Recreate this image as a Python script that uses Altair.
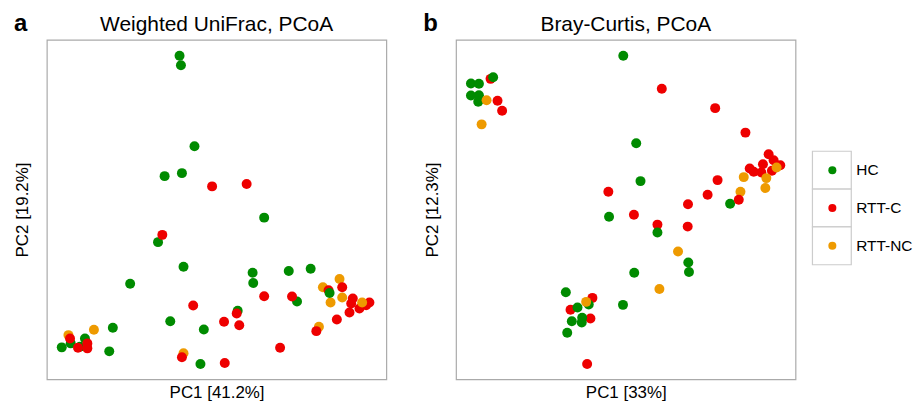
import altair as alt
import pandas as pd

FONT = "Liberation Sans"
groups = ["HC", "RTT-C", "RTT-NC"]
colors = ["#008b00", "#ee0000", "#ee9a00"]

# ---- Panel a: Weighted UniFrac PCoA (positions, in picture units) ----
a_x = [179.3, 180.7, 194.3, 164.3, 181.7, 157.7, 183.3, 129.7, 237.7, 84.3, 112.3, 170.0, 203.7,
       61.0, 70.0, 79.3, 108.7, 200.3, 264.3, 252.7, 253.3, 289.0, 311.0, 297.3,
       67.7, 93.3, 183.3, 340.0, 323.3, 342.7, 331.0, 319.3,
       212.0, 162.0, 193.0, 236.7, 69.3, 224.0, 239.3, 77.3, 86.7, 86.7, 181.7, 224.7, 246.7,
       329.0, 342.7, 264.3, 292.3, 353.3, 351.7, 360.0, 350.0, 370.0, 366.7, 337.3, 316.7, 280.3,
       362.7, 330.0]
a_y = [56.0, 65.7, 147.0, 177.0, 174.0, 243.3, 268.0, 285.0, 312.3, 340.0, 329.3, 322.7, 331.0,
       349.0, 345.0, 348.3, 353.0, 365.7, 218.7, 274.0, 284.3, 272.3, 270.0, 303.0,
       336.7, 331.3, 355.0, 280.3, 288.7, 299.0, 304.0, 328.3,
       187.3, 236.0, 307.0, 315.0, 340.0, 323.3, 326.7, 349.3, 345.0, 350.0, 359.0, 364.7, 185.0,
       291.7, 288.7, 297.7, 298.0, 300.0, 305.0, 310.0, 314.0, 304.0, 306.7, 321.0, 332.7, 349.3,
       304.0, 294.3]
a_g = (["HC"] * 24 + ["RTT-NC"] * 8 + ["RTT-C"] * 26 + ["RTT-NC"] + ["HC"])

# ---- Panel b: Bray-Curtis PCoA ----
b_x = [731.3, 741.7,
       490.7, 497.7, 502.3, 609.0, 634.7, 593.0, 571.0, 591.0, 587.7, 662.7, 716.3, 746.7, 770.0,
       775.0, 764.3, 781.7, 751.0, 755.0, 762.7, 773.3, 718.7, 708.7, 740.0, 689.0, 658.3, 688.7,
       624.0, 471.0, 479.0, 493.3, 471.0, 479.0, 478.3, 637.0, 641.3, 609.7, 635.0, 566.3, 589.3,
       578.0, 623.7, 572.3, 582.7, 582.3, 567.7, 658.3, 689.3, 690.0,
       486.7, 481.7, 586.7, 778.0, 745.0, 767.7, 766.7, 679.0, 660.3]
b_y = [204.7, 192.7,
       79.3, 101.3, 111.3, 192.7, 215.7, 299.3, 311.3, 320.0, 365.7, 89.3, 108.7, 133.3, 155.0,
       161.0, 165.0, 166.0, 169.3, 172.7, 173.3, 171.7, 181.0, 195.7, 200.7, 205.3, 225.7, 227.7,
       56.0, 84.0, 84.3, 77.7, 96.0, 95.7, 102.3, 144.0, 182.0, 217.7, 274.0, 293.7, 306.0,
       309.0, 306.3, 322.7, 319.3, 324.0, 334.3, 233.7, 263.7, 273.3,
       100.7, 125.0, 303.3, 168.3, 178.0, 179.0, 189.0, 252.7, 290.3]
b_g = (["HC"] + ["RTT-NC"] + ["RTT-C"] * 26 + ["HC"] * 22 + ["RTT-NC"] * 9)

W = 341
H = 341

color_scale = alt.Scale(domain=groups, range=colors)


def make_axis(title, pad, size):
    return alt.Axis(title=title, labels=False, ticks=False, domain=False, grid=False,
                    titleFont=FONT, titleFontSize=size, titleFontWeight="normal",
                    titleColor="black", titlePadding=pad)


def panel(xs, ys, gs, xdom, ydom, title, letter, xt, yt):
    df = pd.DataFrame({"x": xs, "y": ys, "group": gs, "ord": list(range(len(xs)))})
    pts = alt.Chart(df).mark_circle(size=100, opacity=1).encode(
        x=alt.X("x:Q", scale=alt.Scale(domain=xdom, nice=False, zero=False),
                axis=make_axis(xt, 5, 17)),
        y=alt.Y("y:Q", scale=alt.Scale(domain=ydom, nice=False, zero=False, reverse=True),
                axis=make_axis(yt, 15, 17)),
        color=alt.Color("group:N", scale=color_scale, legend=None),
        order=alt.Order("ord:Q"),
    )
    lab = alt.Chart(pd.DataFrame({"t": [letter]})).mark_text(
        align="left", baseline="alphabetic", font=FONT, fontSize=24, fontWeight="bold", color="black"
    ).encode(text="t:N", x=alt.value(-33), y=alt.value(-8.5))
    ttl = alt.Chart(pd.DataFrame({"t": [title]})).mark_text(
        align="center", baseline="alphabetic", font=FONT, fontSize=21, color="black"
    ).encode(text="t:N", x=alt.value(W / 2), y=alt.value(-8.5))
    return alt.layer(pts, lab, ttl).properties(width=W, height=H)


pa = panel(a_x, a_y, a_g, [46, 387], [40, 381], "Weighted UniFrac, PCoA", "a", "PC1 [41.2%]", "PC2 [19.2%]")
pb = panel(b_x, b_y, b_g, [456, 797], [40, 381], "Bray-Curtis, PCoA", "b", "PC1 [33%]", "PC2 [12.3%]")

leg_df = pd.DataFrame({"group": groups})
leg_base = alt.Chart(leg_df).encode(
    y=alt.Y("group:N", scale=alt.Scale(domain=groups, range=[112, 226], paddingInner=0, paddingOuter=0),
            axis=None)
)
boxes = leg_base.mark_rect(fill="white", stroke="#cccccc", strokeWidth=1.2).encode(
    x=alt.value(0), x2=alt.value(39))
dots = leg_base.mark_circle(size=65, opacity=1).encode(
    x=alt.value(20), color=alt.Color("group:N", scale=color_scale, legend=None))
texts = leg_base.mark_text(align="left", baseline="middle", font=FONT, fontSize=15.5, color="black").encode(
    x=alt.value(44), text="group:N")
legend = alt.layer(boxes, dots, texts).properties(
    width=90, height=H, view=alt.ViewBackground(stroke=None))

row = alt.hconcat(pa, pb, spacing=35)
chart = alt.hconcat(row, legend, spacing=15).configure_view(
    stroke="#aaaaaa", strokeWidth=1.2
).properties(padding={"left": 5, "top": 2, "right": 0, "bottom": 0})

chart.save("out.html", embed_options={"renderer": "svg", "actions": False})
